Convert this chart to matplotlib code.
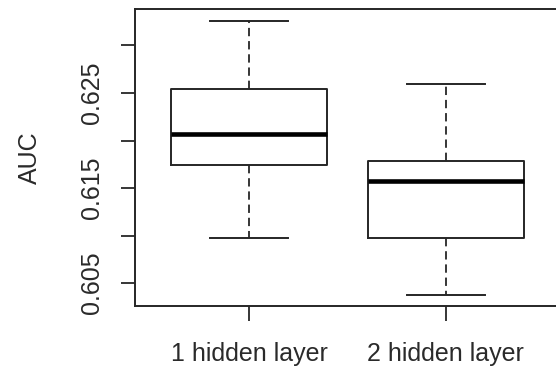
import matplotlib
matplotlib.use("Agg")
import matplotlib.pyplot as plt

# box statistics
labels = ["1 hidden layer", "2 hidden layer"]
whislo = [0.6097, 0.6038]
q1 = [0.6174, 0.6097]
med = [0.6207, 0.6157]
q3 = [0.6254, 0.6178]
whishi = [0.6326, 0.6259]

yticks = [0.605, 0.610, 0.615, 0.620, 0.625, 0.630]
ytick_labels = ["0.605", "", "0.615", "", "0.625", ""]

plt.rcParams['font.family'] = ['Liberation Sans', 'DejaVu Sans']
plt.rcParams['lines.scale_dashes'] = False

line_col = "#262626"
text_col = "#2a2a2a"

fig = plt.figure(figsize=(5.56, 3.71), dpi=100)
ax = fig.add_axes([135 / 556, 1 - 306 / 371, (560 - 135) / 556, (306 - 9.3) / 371])

stats = []
for i in range(len(labels)):
    stats.append({"label": labels[i], "whislo": whislo[i], "q1": q1[i],
                  "med": med[i], "q3": q3[i], "whishi": whishi[i], "fliers": []})

ax.bxp(stats, positions=[1, 2], widths=0.79, capwidths=0.4, showfliers=False,
       boxprops=dict(color=line_col, linewidth=1.4),
       whiskerprops=dict(color=line_col, linewidth=1.3, linestyle=(0, (6, 3.5))),
       capprops=dict(color=line_col, linewidth=1.4),
       medianprops=dict(color="black", linewidth=3.3, solid_capstyle="butt"))

ax.set_xlim(0.42, 2.58)
ax.set_ylim(0.6026, 0.6338)
ax.set_xticks([1, 2])
ax.set_xticklabels(labels, fontsize=18, color=text_col)
ax.set_yticks(yticks)
ax.set_yticklabels(ytick_labels, fontsize=18, rotation=90, va="center", color=text_col)
ax.set_ylabel("AUC", fontsize=18, color=text_col, labelpad=28)

ax.tick_params(axis="x", length=11, width=1.3, color=line_col, pad=15)
ax.tick_params(axis="y", length=10, width=1.3, color=line_col, pad=12)
for s in ax.spines.values():
    s.set_color(line_col)
    s.set_linewidth(1.4)

fig.savefig("out.png", dpi=100)
